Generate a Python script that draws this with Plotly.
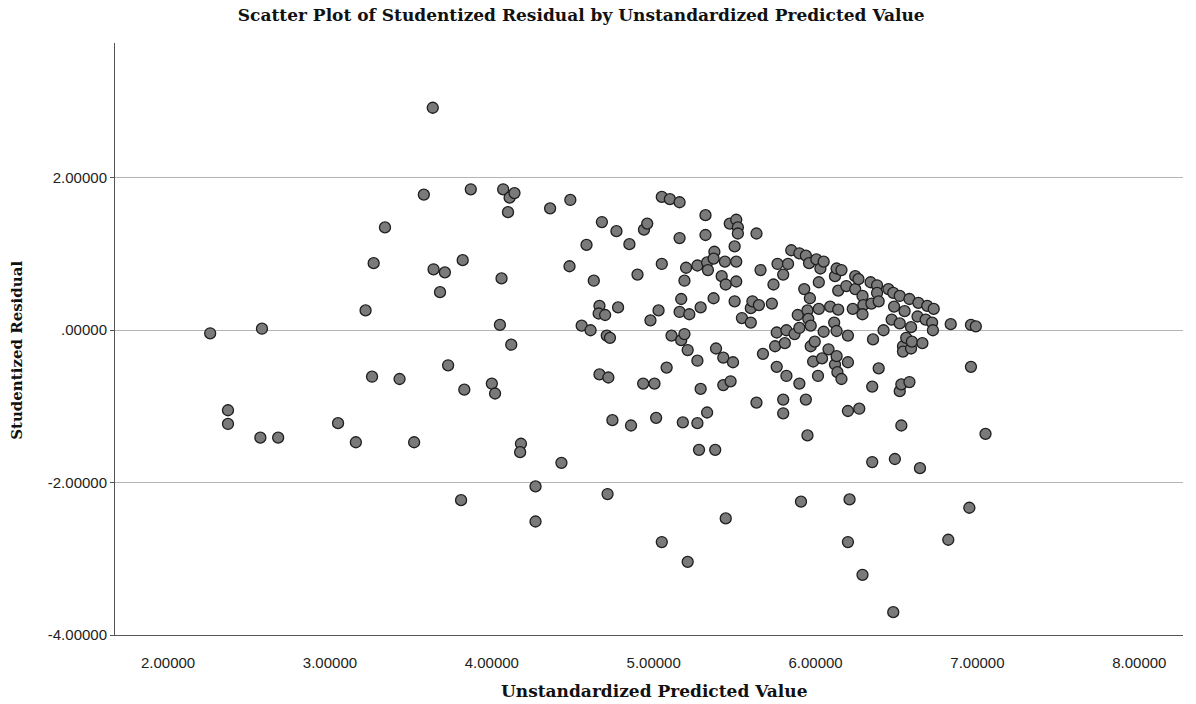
import plotly.graph_objects as go

predicted = [
    2.26, 2.37, 2.37, 2.58, 2.57, 2.68, 3.05, 3.16, 3.22, 3.27, 3.26, 3.34, 3.43, 3.52, 3.58, 3.635,
    3.64, 3.68, 3.71, 3.73, 3.82, 3.83, 3.81, 3.87, 4.00, 4.02, 4.05, 4.06, 4.07, 4.10, 4.11, 4.14,
    4.12, 4.18, 4.175, 4.27, 4.27, 4.36, 4.43, 4.485, 4.48, 4.555, 4.585, 4.61, 4.63, 4.665, 4.66, 4.70,
    4.665, 4.72, 4.68, 4.77, 4.78, 4.71, 4.73, 4.715, 4.745, 4.85, 4.86, 4.90, 4.94, 4.96, 4.935, 4.98,
    5.005, 5.015, 5.03, 5.05, 5.05, 5.05, 5.08, 5.10, 5.11, 5.16, 5.16, 5.17, 5.16, 5.17, 5.19, 5.18,
    5.19, 5.20, 5.21, 5.21, 5.22, 5.27, 5.27, 5.27, 5.28, 5.29, 5.29, 5.32, 5.32, 5.33, 5.335, 5.33,
    5.375, 5.37, 5.37, 5.38, 5.385, 5.42, 5.43, 5.43, 5.44, 5.445, 5.445, 5.47, 5.475, 5.49, 5.50, 5.50,
    5.51, 5.51, 5.51, 5.52, 5.52, 5.545, 5.60, 5.60, 5.61, 5.635, 5.635, 5.65, 5.66, 5.675, 5.73, 5.74,
    5.75, 5.76, 5.76, 5.765, 5.80, 5.80, 5.80, 5.81, 5.82, 5.82, 5.83, 5.85, 5.87, 5.89, 5.90, 5.90,
    5.90, 5.91, 5.93, 5.94, 5.94, 5.95, 5.95, 5.955, 5.96, 5.965, 5.97, 5.97, 5.985, 5.995, 6.005, 6.015,
    6.02, 6.02, 6.03, 6.04, 6.05, 6.05, 6.08, 6.09, 6.115, 6.12, 6.12, 6.13, 6.13, 6.13, 6.135, 6.14,
    6.14, 6.16, 6.16, 6.19, 6.20, 6.20, 6.20, 6.20, 6.21, 6.23, 6.245, 6.245, 6.265, 6.27, 6.29, 6.295,
    6.29, 6.29, 6.34, 6.345, 6.35, 6.35, 6.355, 6.38, 6.38, 6.39, 6.39, 6.42, 6.45, 6.47, 6.48, 6.48,
    6.485, 6.49, 6.52, 6.52, 6.52, 6.53, 6.53, 6.54, 6.54, 6.55, 6.56, 6.58, 6.58, 6.59, 6.59, 6.595,
    6.63, 6.635, 6.645, 6.66, 6.68, 6.69, 6.72, 6.725, 6.73, 6.82, 6.835, 6.95, 6.96, 6.96, 6.99, 7.05,
]

residual = [
    -0.04, -1.05, -1.23, 0.02, -1.41, -1.41, -1.22, -1.47, 0.26, 0.88, -0.61, 1.35, -0.64, -1.47, 1.78, 2.92,
    0.80, 0.50, 0.76, -0.46, 0.92, -0.78, -2.23, 1.85, -0.70, -0.83, 0.07, 0.68, 1.85, 1.55, 1.74, 1.80,
    -0.19, -1.49, -1.60, -2.05, -2.51, 1.60, -1.74, 1.71, 0.84, 0.06, 1.12, 0.00, 0.65, 0.32, 0.22, 0.20,
    -0.58, -0.62, 1.42, 1.30, 0.30, -0.07, -0.10, -2.15, -1.18, 1.13, -1.25, 0.73, 1.32, 1.40, -0.70, 0.13,
    -0.70, -1.15, 0.26, 1.75, 0.87, -2.78, -0.49, 1.72, -0.07, 1.68, 1.21, 0.41, 0.24, -0.13, -0.05, -1.21,
    0.65, 0.82, -0.26, -3.04, 0.21, 0.85, -0.40, -1.22, -1.57, 0.30, -0.77, 1.51, 1.25, 0.89, 0.79, -1.08,
    1.03, 0.94, 0.42, -1.57, -0.24, 0.71, -0.36, -0.72, 0.90, 0.60, -2.47, 1.40, -0.67, -0.42, 1.10, 0.38,
    1.45, 0.90, 0.64, 1.35, 1.27, 0.16, 0.29, 0.10, 0.38, 1.27, -0.95, 0.33, 0.79, -0.31, 0.35, 0.60,
    -0.21, -0.03, -0.48, 0.87, 0.73, -0.91, -1.09, -0.17, 0.00, -0.60, 0.87, 1.05, -0.05, 0.20, 1.01, 0.03,
    -0.70, -2.25, 0.54, 0.98, -0.91, 0.26, -1.38, 0.15, 0.88, 0.42, 0.06, -0.21, -0.41, -0.15, 0.93, -0.60,
    0.63, 0.28, 0.81, -0.37, 0.90, -0.02, -0.25, 0.31, 0.10, 0.71, -0.45, 0.81, -0.01, -0.34, -0.55, 0.52,
    0.27, 0.79, -0.64, 0.58, -0.07, -0.42, -1.06, -2.78, -2.22, 0.28, 0.71, 0.54, 0.67, -1.03, 0.45, 0.33,
    0.21, -3.21, 0.63, 0.35, -0.74, -1.73, -0.12, 0.59, 0.49, 0.38, -0.50, 0.00, 0.54, 0.14, 0.49, -3.70,
    0.31, -1.69, 0.45, 0.09, -0.80, -0.71, -1.25, -0.21, -0.28, 0.25, -0.10, 0.41, -0.68, 0.04, -0.24, -0.15,
    0.18, 0.36, -1.81, -0.17, 0.14, 0.32, 0.10, 0.00, 0.28, -2.75, 0.08, -2.33, 0.07, -0.48, 0.05, -1.36,
]

x_ticks = [2, 3, 4, 5, 6, 7, 8]
x_tick_labels = ["2.00000", "3.00000", "4.00000", "5.00000", "6.00000", "7.00000", "8.00000"]
y_ticks = [-4, -2, 0, 2]
y_tick_labels = ["-4.00000", "-2.00000", ".00000", "2.00000"]

title_text = "Scatter Plot of Studentized Residual by Unstandardized Predicted Value"
x_title = "Unstandardized Predicted Value"
y_title = "Studentized Residual"

serif = "DejaVu Serif, serif"
sans = "Liberation Sans, Arial, sans-serif"

fig = go.Figure()
fig.add_trace(go.Scatter(
    x=predicted, y=residual, mode="markers",
    marker=dict(size=11, color="#7a7a7a", line=dict(color="#1e1e1e", width=1.3)),
    showlegend=False, hoverinfo="x+y",
))

fig.update_layout(
    width=1196, height=704,
    margin=dict(l=115, r=13, t=43, b=69),
    paper_bgcolor="white", plot_bgcolor="white",
    title=dict(text=title_text, x=0.486, xref="container", xanchor="center",
               y=0.979, yref="container", yanchor="middle",
               font=dict(family=serif, size=17, color="#111111", weight="bold")),
    xaxis=dict(range=[1.672, 8.27], tickvals=x_ticks, ticktext=x_tick_labels,
               showgrid=False, zeroline=False, showline=True, linecolor="#555555", linewidth=1,
               ticks="", ticklabelstandoff=14,
               tickfont=dict(family=sans, size=15, color="#222222")),
    yaxis=dict(range=[-4, 3.77], tickvals=y_ticks, ticktext=y_tick_labels,
               showgrid=True, gridcolor="#b4b4b4", gridwidth=1, zeroline=False,
               showline=True, linecolor="#555555", linewidth=1,
               ticks="outside", ticklen=4, tickcolor="#555555",
               tickfont=dict(family=sans, size=15, color="#222222")),
    annotations=[
        dict(text=x_title, xref="paper", yref="paper", x=0.5048, y=0, xanchor="center",
             yanchor="middle", yshift=-56, showarrow=False,
             font=dict(family=serif, size=17, color="#111111", weight="bold")),
        dict(text=y_title, xref="paper", yref="paper", x=0, y=0.48, xanchor="center",
             yanchor="middle", xshift=-98, textangle=-90, showarrow=False,
             font=dict(family=serif, size=15, color="#111111", weight="bold")),
    ],
)

fig.write_html("out.html")
